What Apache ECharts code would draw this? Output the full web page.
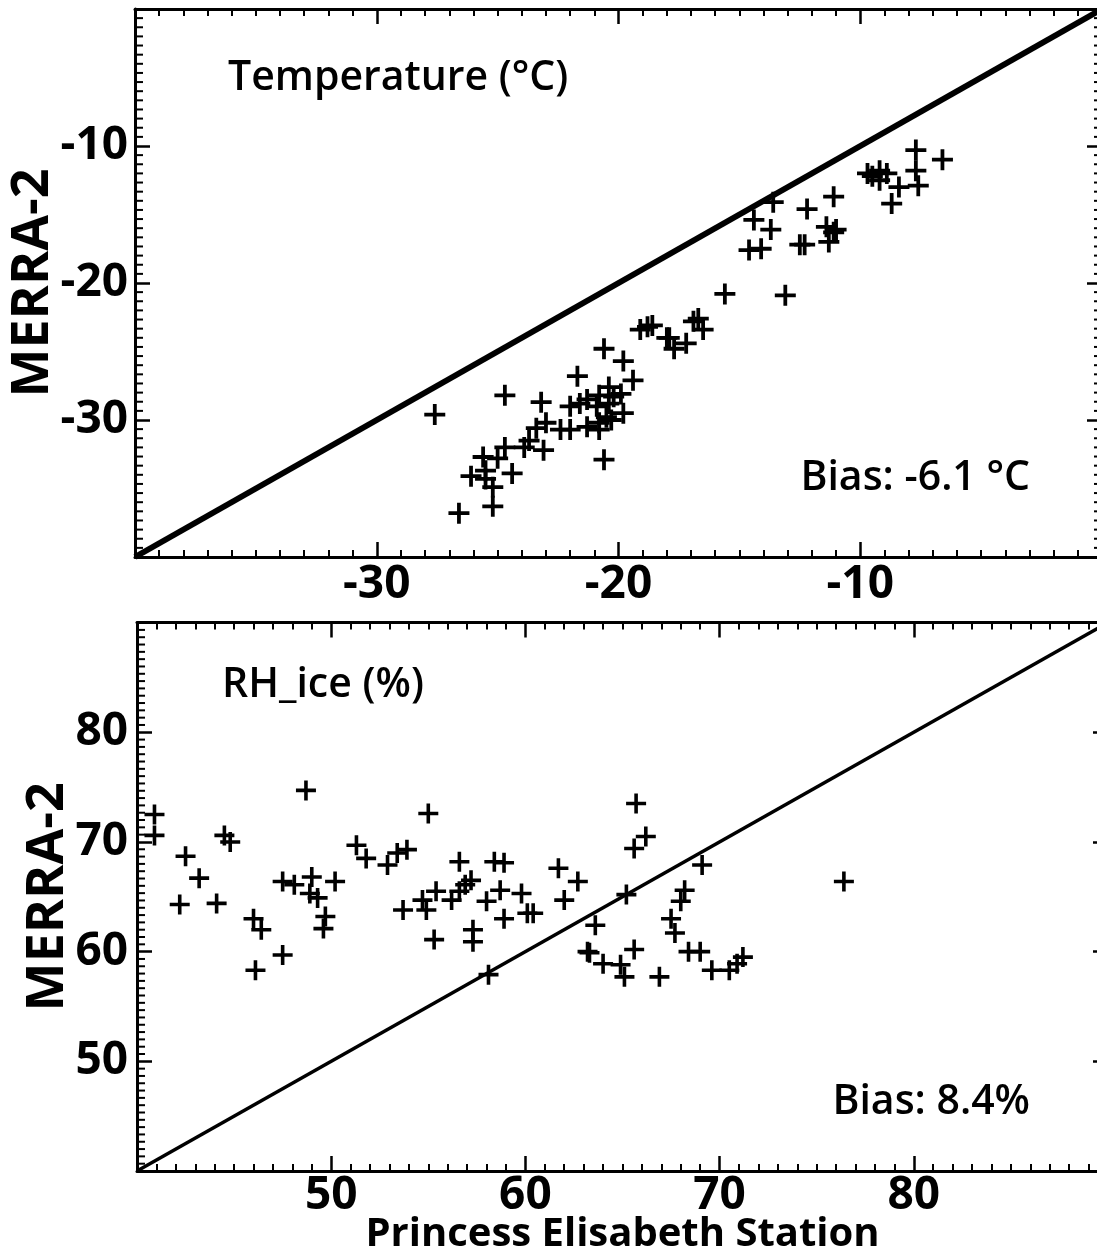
<!DOCTYPE html>
<html>
<head>
<meta charset="utf-8">
<script src="https://cdn.jsdelivr.net/npm/echarts@6/dist/echarts.min.js"></script>
<style>
  html, body { margin: 0; padding: 0; background: #fff; }
  #chart { width: 1097px; height: 1253px; }
</style>
</head>
<body>
<div id="chart"></div>
<script>
// top panel: temperature (°C), station vs MERRA-2
const tempStation = [-7.7, -7.7, -6.6, -7.6, -8.4, -8.7, -9.7, -9.2, -8.9, -9.2, -9.5,
  -13.6, -14.4, -13.7, -14.1, -14.6, -12.2, -11.1, -11.4, -11.1, -11.3, -11.0, -12.3, -12.5, -15.6, -13.1,
  -27.6, -24.7, -23.2, -23.0, -23.4, -23.7, -23.1, -23.9, -24.7, -25.0, -25.6, -26.1, -25.5, -25.2, -24.4, -25.2, -26.6, -25.5,
  -21.7, -22.0, -22.0, -21.3, -21.6, -21.3, -20.9, -20.8, -20.8, -20.5, -20.4, -20.2, -19.9, -19.8, -20.6, -19.8, -19.4, -20.4,
  -20.6, -18.8, -18.6, -18.0, -17.7, -16.7, -16.5, -16.9, -17.9, -17.2, -19.1, -20.8, -20.3, -22.4];
const tempMerra = [-10.3, -11.8, -11.0, -12.9, -13.0, -14.2, -12.0, -11.8, -12.0, -12.5, -12.2,
  -14.1, -15.4, -16.1, -17.5, -17.6, -14.6, -13.7, -15.9, -16.3, -17.0, -16.1, -17.2, -17.2, -20.8, -20.9,
  -29.6, -28.2, -28.7, -30.2, -30.6, -31.5, -32.2, -32.0, -32.0, -32.8, -32.7, -34.1, -34.3, -34.9, -33.9, -36.3, -36.8, -33.7,
  -26.8, -29.0, -30.7, -30.5, -28.8, -28.5, -29.0, -30.2, -30.7, -29.8, -27.6, -28.3, -28.1, -29.5, -24.8, -25.7, -27.1, -28.8,
  -32.9, -23.2, -23.1, -24.0, -24.8, -22.6, -23.4, -22.8, -24.0, -24.4, -23.4, -28.2, -30.0, -30.7];

// bottom panel: RH over ice (%)
const rhStation = [40.9, 40.9, 42.5, 43.2, 42.2, 44.1, 44.5, 44.8, 48.7, 46.0,
  46.4, 46.1, 47.5, 47.5, 48.1, 49.0, 48.9, 49.3, 50.2, 49.7,
  49.6, 51.3, 51.8, 52.9, 53.4, 53.9, 55.0, 53.7, 54.7, 54.9,
  55.4, 55.3, 56.2, 56.6, 56.6, 56.9, 57.2, 57.3, 57.3, 58.0,
  58.4, 58.9, 58.7, 58.9, 59.8, 60.1, 60.4, 61.7, 62.0, 62.7,
  63.6, 63.3, 64.0, 58.1, 65.7, 66.2, 65.6, 69.1, 68.2, 68.0,
  67.5, 67.7, 65.2, 63.2, 64.9, 65.6, 65.1, 66.9, 68.4, 69.0,
  69.6, 70.5, 70.9, 71.2, 76.4];
const rhMerra = [72.5, 70.6, 68.7, 66.7, 64.3, 64.4, 70.6, 70.0, 74.7, 63.0,
  62.0, 58.3, 59.7, 66.4, 66.1, 66.8, 65.3, 64.9, 66.4, 63.2,
  62.1, 69.7, 68.5, 67.9, 69.0, 69.3, 72.6, 63.8, 64.7, 63.8,
  65.5, 61.1, 64.7, 68.2, 65.5, 66.1, 66.5, 62.0, 60.9, 64.6,
  68.2, 68.1, 65.6, 63.0, 65.3, 63.5, 63.5, 67.6, 64.7, 66.4,
  62.4, 59.9, 58.9, 57.9, 73.5, 70.5, 69.4, 67.9, 65.6, 64.6,
  63.0, 61.7, 65.2, 60.0, 58.8, 60.2, 57.7, 57.7, 60.0, 60.0,
  58.3, 58.3, 58.9, 59.5, 66.4];

const tempRange = [-40, 0];
const rhRange = [40, 90];
const tempBias = 'Bias: -6.1 °C';
const rhBias = 'Bias: 8.4%';

const black = '#000';
const font = 'Open Sans';
const plus = 'path://M-1.8,-10H1.8V-1.8H10V1.8H1.8V10H-1.8V1.8H-10V-1.8H-1.8Z';
const yMinorSplit = 15;

// frame axis: thick line, long inward ticks, optional minor ticks
function frameAxis(gridIndex, range, minorSplit) {
  return {
    type: 'value',
    gridIndex,
    min: range[0],
    max: range[1],
    interval: 10,
    axisLine: { show: true, onZero: false, lineStyle: { color: black, width: 3 } },
    axisTick: { show: true, inside: true, length: 15, lineStyle: { color: black, width: 2.5 } },
    minorTick: { show: minorSplit > 0, splitNumber: minorSplit || 5, length: 7, lineStyle: { color: black, width: 2 } },
    splitLine: { show: false },
    axisLabel: { show: false }
  };
}

function tickLabels(margin) {
  return {
    show: true, showMinLabel: false, showMaxLabel: false, margin,
    color: black, fontFamily: font, fontWeight: 'bold', fontSize: 46
  };
}

const nameStyle = { color: black, fontFamily: font, fontWeight: 'bold', fontSize: 52 };

const chart = echarts.init(document.getElementById('chart'), null, { renderer: 'canvas' });

chart.setOption({
  backgroundColor: '#fff',
  animation: false,
  grid: [
    { left: 135, top: 9, width: 967, height: 548, containLabel: false, outerBoundsMode: 'none' },
    { left: 137, top: 622.6, width: 971, height: 548.4, containLabel: false, outerBoundsMode: 'none' }
  ],
  xAxis: [
    { ...frameAxis(0, tempRange, 10), position: 'bottom', axisLabel: tickLabels(5) },
    { ...frameAxis(0, tempRange, 10), position: 'top' },
    {
      ...frameAxis(1, rhRange, 10), position: 'bottom', axisLabel: tickLabels(2),
      name: 'Princess Elisabeth Station', nameLocation: 'middle', nameGap: 44, nameMoveOverlap: false,
      nameTextStyle: { color: black, fontFamily: font, fontWeight: 'bold', fontSize: 40 }
    },
    { ...frameAxis(1, rhRange, 10), position: 'top' }
  ],
  yAxis: [
    {
      ...frameAxis(0, tempRange, 0), position: 'left', axisLabel: tickLabels(7),
      name: 'MERRA-2', nameLocation: 'middle', nameRotate: 90, nameGap: 76, nameMoveOverlap: false, nameTextStyle: nameStyle
    },
    { ...frameAxis(0, tempRange, 0), position: 'right' },
    {
      ...frameAxis(1, rhRange, 0), position: 'left', axisLabel: tickLabels(9),
      name: 'MERRA-2', nameLocation: 'middle', nameRotate: 90, nameGap: 63, nameMoveOverlap: false, nameTextStyle: nameStyle
    },
    { ...frameAxis(1, rhRange, 0), position: 'right' }
  ],
  series: [
    {
      type: 'line', xAxisIndex: 0, yAxisIndex: 0, symbol: 'none', silent: true,
      data: [[tempRange[0], tempRange[0]], [tempRange[1], tempRange[1]]],
      lineStyle: { color: black, width: 6, opacity: 1 }
    },
    {
      type: 'scatter', xAxisIndex: 0, yAxisIndex: 0, symbol: plus, symbolSize: 21,
      itemStyle: { color: black, opacity: 1 },
      data: tempStation.map((v, i) => [v, tempMerra[i]])
    },
    {
      type: 'line', xAxisIndex: 2, yAxisIndex: 2, symbol: 'none', silent: true,
      data: [[rhRange[0], rhRange[0]], [rhRange[1], rhRange[1]]],
      lineStyle: { color: black, width: 3.5, opacity: 1 }
    },
    {
      type: 'scatter', xAxisIndex: 2, yAxisIndex: 2, symbol: plus, symbolSize: 20,
      itemStyle: { color: black, opacity: 1 },
      data: rhStation.map((v, i) => [v, rhMerra[i]])
    }
  ]
});

// minor y ticks (15 per major step) placed through the grid's scales
function yMinorTicks(gridIndex, xRange, yRange) {
  const out = [];
  const steps = (yRange[1] - yRange[0]) / 10 * yMinorSplit;
  for (let k = 1; k < steps; k++) {
    if (k % yMinorSplit === 0) continue;
    const v = yRange[0] + k * 10 / yMinorSplit;
    const pl = chart.convertToPixel({ gridIndex }, [xRange[0], v]);
    const pr = chart.convertToPixel({ gridIndex }, [xRange[1], v]);
    out.push({ type: 'line', z: 100, silent: true, shape: { x1: pl[0], y1: pl[1], x2: pl[0] + 8, y2: pl[1] }, style: { stroke: black, lineWidth: 2 } });
    out.push({ type: 'line', z: 100, silent: true, shape: { x1: pr[0] - 8, y1: pr[1], x2: pr[0], y2: pr[1] }, style: { stroke: black, lineWidth: 2 } });
  }
  return out;
}

const labelFont = '600 41px "Open Sans"';
chart.setOption({
  graphic: [
    { type: 'text', x: 228, y: 78, style: { text: 'Temperature (°C)', fill: black, font: labelFont, textVerticalAlign: 'middle' } },
    { type: 'text', x: 1030, y: 478, style: { text: tempBias, fill: black, font: labelFont, textAlign: 'right', textVerticalAlign: 'middle' } },
    { type: 'text', x: 222, y: 685, style: { text: 'RH_ice (%)', fill: black, font: labelFont, textVerticalAlign: 'middle' } },
    { type: 'text', x: 1030, y: 1102, style: { text: rhBias, fill: black, font: labelFont, textAlign: 'right', textVerticalAlign: 'middle' } },
    ...yMinorTicks(0, tempRange, tempRange),
    ...yMinorTicks(1, rhRange, rhRange)
  ]
});
</script>
</body>
</html>
